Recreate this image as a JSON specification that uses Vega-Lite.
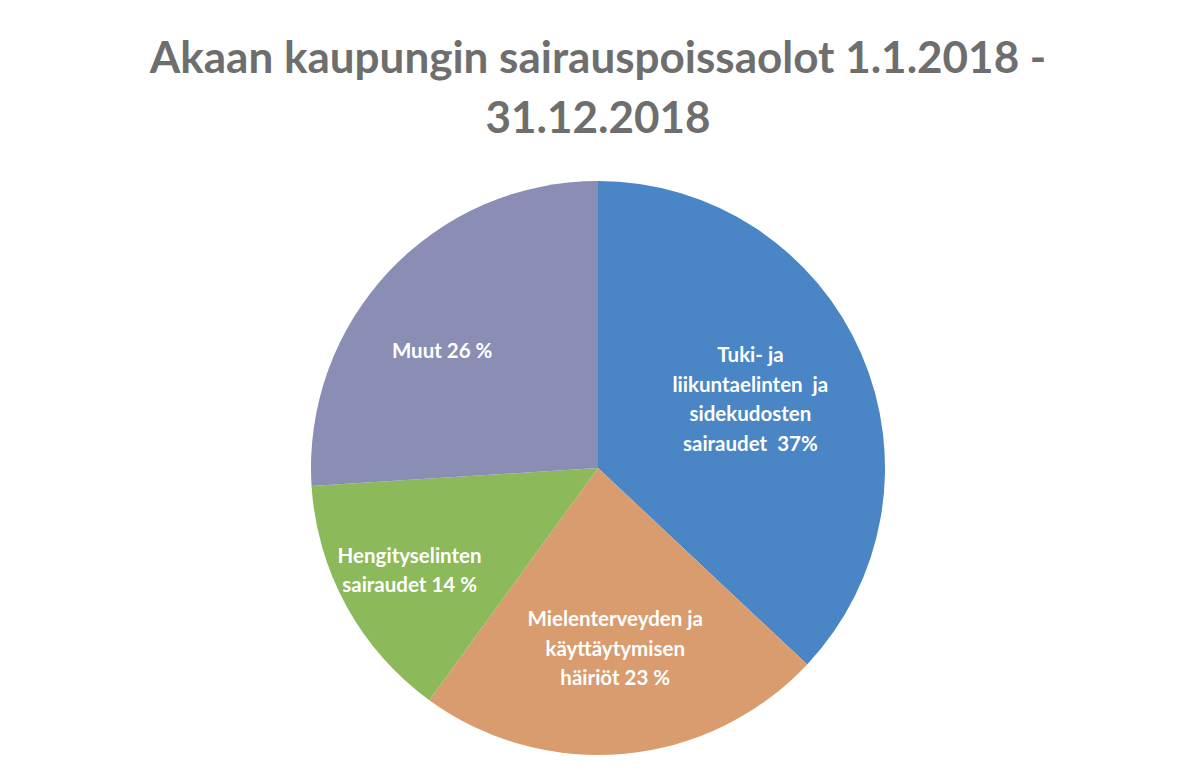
{
  "$schema": "https://vega.github.io/schema/vega-lite/v6.json",
  "autosize": {"type": "none"},
  "width": 574,
  "height": 574,
  "padding": {"left": 311, "top": 181, "right": 302, "bottom": 25},
  "background": "#ffffff",
  "title": {
    "text": ["Akaan kaupungin sairauspoissaolot 1.1.2018 -", "31.12.2018"],
    "font": "Lato",
    "fontSize": 44,
    "fontWeight": "bold",
    "color": "#6e6e6e",
    "anchor": "middle",
    "lineHeight": 60,
    "offset": 39
  },
  "data": {
    "values": [
      {"idx": 1, "category": "Tuki- ja liikuntaelinten ja sidekudosten sairaudet", "label": "Tuki- ja\nliikuntaelinten\u00a0\u00a0ja\nsidekudosten\nsairaudet\u00a0\u00a037%", "share": 37},
      {"idx": 2, "category": "Mielenterveyden ja käyttäytymisen häiriöt", "label": "Mielenterveyden ja\nkäyttäytymisen\nhäiriöt 23 %", "share": 23},
      {"idx": 3, "category": "Hengityselinten sairaudet", "label": "Hengityselinten\nsairaudet 14 %", "share": 14},
      {"idx": 4, "category": "Muut", "label": "Muut 26 %", "share": 26}
    ]
  },
  "encoding": {
    "theta": {"field": "share", "type": "quantitative", "stack": true},
    "order": {"field": "idx", "type": "quantitative"}
  },
  "layer": [
    {
      "mark": {"type": "arc", "outerRadius": 287},
      "encoding": {
        "color": {
          "field": "category",
          "type": "nominal",
          "legend": null,
          "scale": {
            "domain": ["Tuki- ja liikuntaelinten ja sidekudosten sairaudet", "Mielenterveyden ja käyttäytymisen häiriöt", "Hengityselinten sairaudet", "Muut"],
            "range": ["#4a86c6", "#d99c6e", "#8cb95a", "#8a8db4"]
          }
        }
      }
    },
    {
      "mark": {
        "type": "text", "font": "Lato", "fontSize": 20.5, "fontWeight": "bold", "color": "#ffffff",
        "lineBreak": "\n", "lineHeight": 29.5, "align": "center", "baseline": "middle",
        "dx": {"expr": "datum.idx == 4 ? -13 : 0"},
        "dy": {"expr": "datum.idx == 1 ? -46 : datum.idx == 2 ? -30 : datum.idx == 3 ? -15 : 18"}
      },
      "encoding": {
        "text": {"field": "label"},
        "radius": {"value": {"expr": "datum.idx == 1 ? 166 : datum.idx == 2 ? 183 : datum.idx == 3 ? 215 : 196"}}
      }
    }
  ]
}
